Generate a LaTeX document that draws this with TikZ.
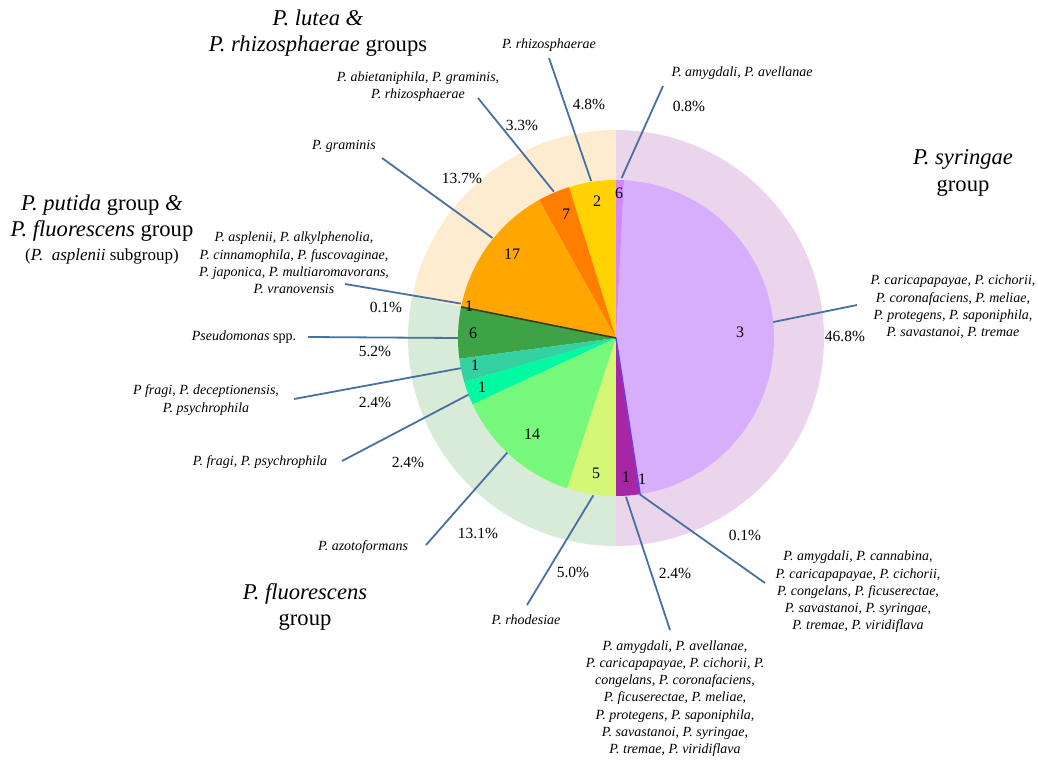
\documentclass[tikz,border=0pt]{standalone}
\usepackage{fontspec}
\setmainfont{Liberation Serif}
\usetikzlibrary{calc}

\definecolor{ringpeach}{RGB}{253,236,208}
\definecolor{ringgreen}{RGB}{216,235,216}
\definecolor{ringlilac}{RGB}{235,213,236}
\definecolor{cyellow}{RGB}{255,210,0}
\definecolor{corangered}{RGB}{255,125,0}
\definecolor{corange}{RGB}{255,166,0}
\definecolor{colive}{RGB}{60,58,20}
\definecolor{cdkgreen}{RGB}{62,163,70}
\definecolor{cteal}{RGB}{52,210,162}
\definecolor{cspring}{RGB}{0,250,162}
\definecolor{cltgreen}{RGB}{118,249,122}
\definecolor{cyelgreen}{RGB}{213,247,118}
\definecolor{cmagenta}{RGB}{168,38,165}
\definecolor{cviolet}{RGB}{108,60,228}
\definecolor{cpurple}{RGB}{214,174,252}
\definecolor{clilac}{RGB}{210,135,250}
\definecolor{leadblue}{RGB}{72,112,162}

\begin{document}
\begin{tikzpicture}[x=1pt, y=1pt,
    lead/.style={draw=leadblue, line width=1.8pt},
    spc/.style={font=\fontsize{14}{17.2}\selectfont\itshape, align=center, inner sep=0pt},
    pct/.style={font=\fontsize{15.5}{17}\selectfont, inner sep=0pt},
    num/.style={font=\fontsize{16}{17}\selectfont, inner sep=0pt},
    grp/.style={font=\fontsize{22.6}{26.5}\selectfont, align=center, inner sep=0pt}]
    \useasboundingbox (0,0) rectangle (1038,-761);
    \coordinate (c) at (616,-338);

    % outer ring: the three groups
    \fill[ringpeach] (c) -- ++(90:208) arc (90:168.5:208) -- cycle;
    \fill[ringgreen] (c) -- ++(168.5:208) arc (168.5:270:208) -- cycle;
    \fill[ringlilac] (c) -- ++(-90:208) arc (-90:90:208) -- cycle;

    % inner pie
    \foreach \a/\b/\col in {90/107.28/cyellow, 107.28/119.16/corangered,
        119.16/168.48/corange, 168.84/187.56/cdkgreen, 187.56/196.2/cteal,
        196.2/204.84/cspring, 204.84/252/cltgreen, 252/270/cyelgreen,
        270/278.64/cmagenta, 279/447.12/cpurple, 447.12/450/clilac}
        \fill[\col] (c) -- ++(\a:158) arc (\a:\b:158) -- cycle;
    \draw[colive, line width=1.6pt] (c) -- ++(168.66:158);
    \draw[cviolet, line width=1.4pt] (c) -- ++(278.8:158);

    % counts
    \node[num] (n1) at (597,-201) {2};
    \node[num] (n2) at (619,-193) {6};
    \node[num] (n3) at (566,-214) {7};
    \node[num] (n4) at (512,-254) {17};
    \node[num] (n5) at (469,-306) {1};
    \node[num] (n6) at (473,-333) {6};
    \node[num] (n7) at (475,-365) {1};
    \node[num] (n8) at (482,-387) {1};
    \node[num] (n9) at (532,-434) {14};
    \node[num] (n10) at (596,-473) {5};
    \node[num] (n11) at (626,-477) {1};
    \node[num] (n12) at (642,-479) {1};
    \node[num] (n13) at (740,-332) {3};

    % leader ends on the pie
    \coordinate (pRhizo) at ($(c)+(99:159)$);
    \coordinate (pAbiet) at ($(c)+(113:159)$);
    \coordinate (pGram) at ($(c)+(141:159)$);
    \coordinate (pAspl) at ($(c)+(167.5:159)$);
    \coordinate (pSpp) at ($(c)+(180:158)$);
    \coordinate (pFragA) at ($(c)+(191:158)$);
    \coordinate (pFragB) at ($(c)+(201:158)$);
    \coordinate (pAzot) at ($(c)+(226.5:158)$);
    \coordinate (pRhod) at ($(c)+(261.8:159)$);
    \coordinate (pMag) at ($(c)+(273.6:159)$);
    \coordinate (pVio) at ($(c)+(278.6:158)$);
    \coordinate (pSyr) at ($(c)+(5.8:158)$);
    \coordinate (pAmyg) at ($(c)+(88:160)$);

    % free ends
    \coordinate (tRhizo) at (549,-58);
    \coordinate (tAbiet) at (478,-98);
    \coordinate (tGram) at (382,-158);
    \coordinate (tAspl) at (345,-284);
    \coordinate (tSpp) at (308,-337);
    \coordinate (tFragA) at (294,-399);
    \coordinate (tFragB) at (342,-461);
    \coordinate (tAzot) at (426,-545);
    \coordinate (tRhod) at (527,-605);
    \coordinate (tMag) at (670,-630);
    \coordinate (tVio) at (765,-583);
    \coordinate (tSyr) at (857,-305);
    \coordinate (tAmyg) at (663,-86);

    \foreach \k in {Rhizo,Abiet,Gram,Aspl,Spp,FragA,FragB,Azot,Rhod,Mag,Vio,Syr,Amyg}
        \draw[lead] (p\k) -- (t\k);

    % species labels
    \node[spc] (lRhizo) at (549,-45) {P. rhizosphaerae};
    \node[spc] (lAbiet) at (418,-86.5) {P. abietaniphila, P. graminis,\\P. rhizosphaerae};
    \node[spc] (lGram) at (344,-146) {P. graminis};
    \node[spc] (lAspl) at (294,-263) {P. asplenii, P. alkylphenolia,\\P. cinnamophila, P. fuscovaginae,\\P. japonica, P. multiaromavorans,\\P. vranovensis};
    \node[spc] (lSpp) at (244,-337) {Pseudomonas \upshape spp.};
    \node[spc] (lFragA) at (206,-400) {P fragi, P. deceptionensis,\\P. psychrophila};
    \node[spc] (lFragB) at (260,-462) {P. fragi, P. psychrophila};
    \node[spc] (lAzot) at (363,-547) {P. azotoformans};
    \node[spc] (lRhod) at (526,-620) {P. rhodesiae};
    \node[spc] (lMag) at (675,-698.5) {P. amygdali, P. avellanae,\\P. caricapapayae, P. cichorii, P.\\congelans, P. coronafaciens,\\P. ficuserectae, P. meliae,\\P. protegens, P. saponiphila,\\P. savastanoi, P. syringae,\\P. tremae, P. viridiflava};
    \node[spc] (lVio) at (858,-592) {P. amygdali, P. cannabina,\\P. caricapapayae, P. cichorii,\\P. congelans, P. ficuserectae,\\P. savastanoi, P. syringae,\\P. tremae, P. viridiflava};
    \node[spc] (lSyr) at (953,-307) {P. caricapapayae, P. cichorii,\\P. coronafaciens, P. meliae,\\P. protegens, P. saponiphila,\\P. savastanoi, P. tremae};
    \node[spc] (lAmyg) at (742,-73) {P. amygdali, P. avellanae};

    % shares
    \node[pct] (sRhizo) at (589,-104) {4.8\%};
    \node[pct] (sAbiet) at (522,-125) {3.3\%};
    \node[pct] (sGram) at (462,-178) {13.7\%};
    \node[pct] (sAspl) at (386,-307) {0.1\%};
    \node[pct] (sSpp) at (375,-351) {5.2\%};
    \node[pct] (sFragA) at (375,-402) {2.4\%};
    \node[pct] (sFragB) at (408,-462) {2.4\%};
    \node[pct] (sAzot) at (478,-533) {13.1\%};
    \node[pct] (sRhod) at (573,-572) {5.0\%};
    \node[pct] (sMag) at (675,-573) {2.4\%};
    \node[pct] (sVio) at (745,-535) {0.1\%};
    \node[pct] (sSyr) at (845,-336) {46.8\%};
    \node[pct] (sAmyg) at (689,-106) {0.8\%};

    % group names
    \node[grp] (gLutea) at (318,-33) {\textit{P. lutea \&}\\\textit{P. rhizosphaerae} groups};
    \node[grp] (gPutida) at (102,-229) {\textit{P. putida} group \textit{\&}\\\textit{P. fluorescens} group\\[-3pt]{\fontsize{17}{20}\selectfont(\textit{P.\ \ asplenii} subgroup)}};
    \node[grp] (gSyr) at (963,-173) {\textit{P. syringae}\\group};
    \node[grp] (gFluo) at (305,-607) {\textit{P. fluorescens}\\group};
\end{tikzpicture}
\end{document}
